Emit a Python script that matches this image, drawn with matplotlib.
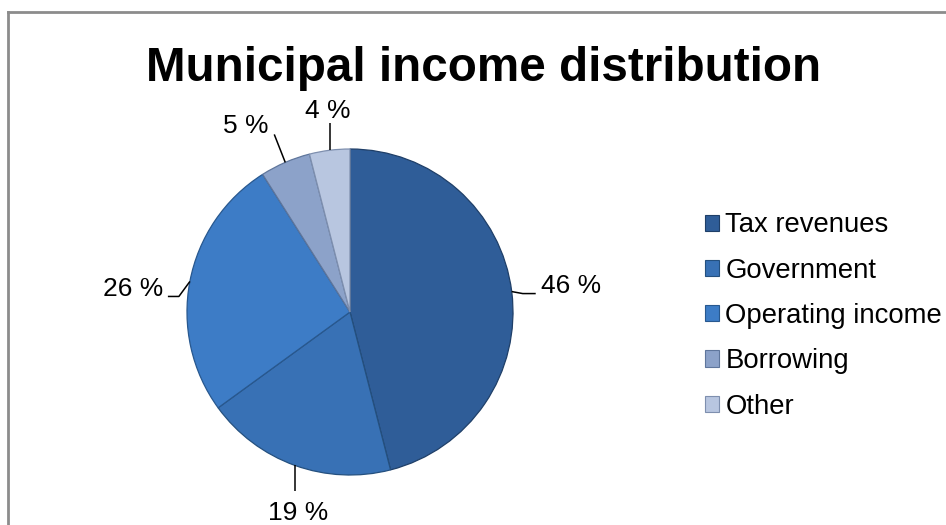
import matplotlib
matplotlib.use("Agg")
import matplotlib.pyplot as plt
from matplotlib.lines import Line2D
import numpy as np

plt.rcParams['font.family'] = ['Liberation Sans', 'DejaVu Sans']

categories = ["Tax revenues", "Government", "Operating income", "Borrowing", "Other"]
values = [46, 19, 26, 5, 4]
title = "Municipal income distribution"

colors = ["#2f5d98", "#3871b5", "#3d7cc6", "#8ca2c9", "#b8c6e0"]
edge_colors = ["#1f3f68", "#24507f", "#28588f", "#5f769c", "#7e8fae"]

W, H = 946, 525
fig = plt.figure(figsize=(W / 100, H / 100), dpi=100)
ax = fig.add_axes([0, 0, 1, 1])

cx, cy, R = 350, H - 312, 163
wedges, _ = ax.pie(values, colors=colors, startangle=90, counterclock=False,
                   center=(cx, cy), radius=R, frame=True,
                   wedgeprops=dict(linewidth=0.9))
for w, ec in zip(wedges, edge_colors):
    w.set_edgecolor(ec)
ax.set_xlim(0, W)
ax.set_ylim(0, H)
ax.set_aspect('auto')
ax.axis('off')

# leader-line layout per wedge (pixel offsets: elbow, extension, text, alignment)
leader = [
    ((11, -2), (13, 0), (5, 1), 'left'),
    ((0, -26), (0, 0), (3, -29), 'center'),
    ((-11, -15), (-11, 0), (-5, 0), 'right'),
    ((-11, 28), (0, 0), (-6, 1), 'right'),
    ((0, 27), (0, 0), (-2, 5), 'center'),
]
for w, v, (d1, d2, d3, ha) in zip(wedges, values, leader):
    mid = np.deg2rad((w.theta1 + w.theta2) / 2)
    ex, ey = cx + R * np.cos(mid), cy + R * np.sin(mid)
    bx, by = ex + d1[0], ey + d1[1]
    fx, fy = bx + d2[0], by + d2[1]
    ax.plot([ex, bx, fx], [ey, by, fy], color='black', lw=1.1, solid_capstyle='butt')
    ax.text(fx + d3[0], fy + d3[1], f"{v} %", ha=ha, va='baseline', fontsize=19, color='black')

fig.text(484 / W, 1 - 81 / H, title, ha='center', va='baseline', fontsize=34.3,
         fontweight='bold', color='black')

handles = [plt.Rectangle((0, 0), 1, 1, facecolor=c, edgecolor=ec, lw=0.8)
           for c, ec in zip(colors, edge_colors)]
fig.legend(handles, categories, loc='center left', bbox_to_anchor=(705 / W, 1 - 316 / H),
           frameon=False, fontsize=19.8, handlelength=0.52, handleheight=0.52,
           handletextpad=0.22, labelspacing=0.7, borderpad=0, borderaxespad=0)

# chart border (left and top visible)
fig.add_artist(Line2D([8 / W, 8 / W], [0, 1 - 12 / H], color='#8c8c8c', lw=2, transform=fig.transFigure))
fig.add_artist(Line2D([8 / W, 1], [1 - 12 / H, 1 - 12 / H], color='#8c8c8c', lw=2, transform=fig.transFigure))

fig.savefig("out.png", dpi=100, facecolor='white')
